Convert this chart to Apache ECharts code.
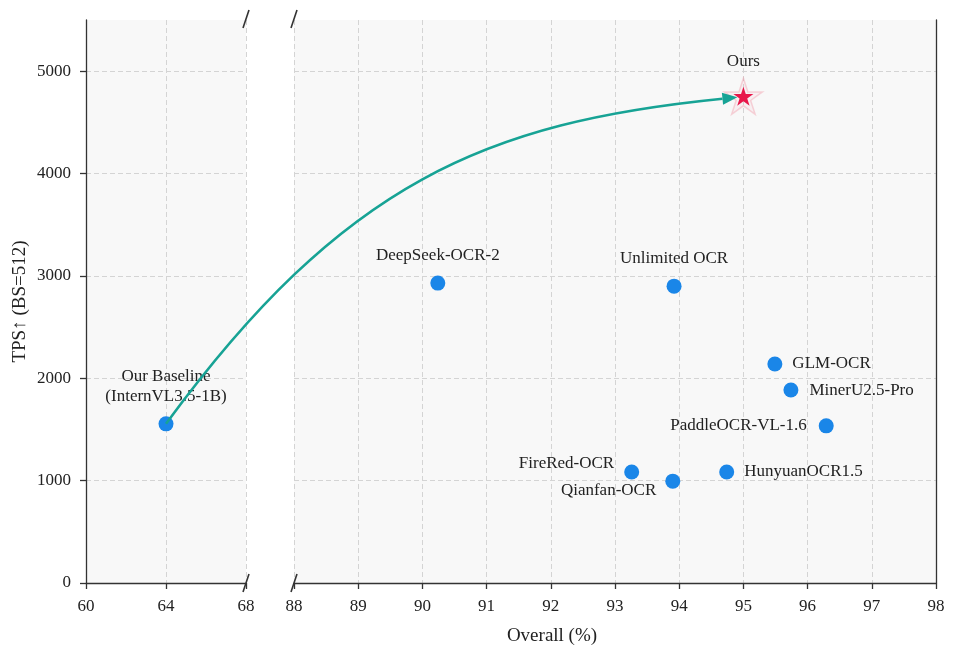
<!DOCTYPE html>
<html>
<head>
<meta charset="utf-8">
<script src="https://cdn.jsdelivr.net/npm/echarts@6/dist/echarts.min.js"></script>
<style>
  html, body { margin: 0; padding: 0; background: #fff; }
  #main { width: 960px; height: 656px; }
</style>
</head>
<body>
<div id="main"></div>
<script>
// data
const models = ['DeepSeek-OCR-2', 'Unlimited OCR', 'GLM-OCR', 'MinerU2.5-Pro',
                'PaddleOCR-VL-1.6', 'FireRed-OCR', 'Qianfan-OCR', 'HunyuanOCR1.5'];
const overall = [90.24, 93.92, 95.49, 95.74, 96.29, 93.26, 93.90, 94.74];
const tps = [2930, 2900, 2140, 1885, 1535, 1085, 995, 1085];

const baselineName = 'Our Baseline\n(InternVL3.5-1B)';
const baselineOverall = 64.0;
const baselineTps = 1555;

const oursName = 'Ours';
const oursOverall = 95.0;
const oursTps = 4755;

const leftTicks = [60, 68, 4];   // min, max, step
const rightTicks = [88, 98, 1];
const yTicks = [0, 5500, 1000];

// label placement per model (style only)
const labelPlace = {
    'DeepSeek-OCR-2': ['top', 12, [0, 0]],
    'Unlimited OCR': ['top', 12, [0, 0]],
    'GLM-OCR': ['right', 10, [0, 0]],
    'MinerU2.5-Pro': ['right', 11, [0, 0]],
    'PaddleOCR-VL-1.6': ['left', 12, [0, 0]],
    'FireRed-OCR': ['left', 10, [0, -8]],
    'Qianfan-OCR': ['left', 9, [0, 9]],
    'HunyuanOCR1.5': ['right', 10, [0, 0]]
};

const FONT = "'Liberation Serif', 'Times New Roman', serif";
const TXT = '#222';
const BLUE = '#1a86e8';
const TEAL = '#17a395';
const STAR = 'path://M50,0 L61.2,34.5 L97.6,34.5 L68.2,55.9 L79.4,90.5 L50,69.1 L20.6,90.5 L31.8,55.9 L2.4,34.5 L38.8,34.5 Z';

const chart = echarts.init(document.getElementById('main'));

function xAxisOf(grid, t) {
    return {
        type: 'value', gridIndex: grid, min: t[0], max: t[1], interval: t[2],
        axisLine: { show: true, onZero: false, lineStyle: { color: '#333', width: 1.3 } },
        axisTick: { show: true, length: 6, lineStyle: { color: '#333', width: 1.3 } },
        axisLabel: { color: TXT, fontFamily: FONT, fontSize: 17, margin: 15 },
        splitLine: { show: true, lineStyle: { color: '#d4d4d4', type: [5, 3], width: 1 } }
    };
}

function yAxisOf(grid, isLeft) {
    return {
        type: 'value', gridIndex: grid, min: yTicks[0], max: yTicks[1], interval: yTicks[2],
        position: isLeft ? 'left' : 'right',
        name: isLeft ? 'TPS↑ (BS=512)' : '',
        nameLocation: 'middle', nameGap: 56,
        nameTextStyle: { color: TXT, fontFamily: FONT, fontSize: 19 },
        axisLine: { show: true, lineStyle: { color: '#333', width: 1.3 } },
        axisTick: { show: isLeft, length: 6, lineStyle: { color: '#333', width: 1.3 } },
        axisLabel: { show: isLeft, color: TXT, fontFamily: FONT, fontSize: 17, margin: 15,
                     showMaxLabel: false, formatter: function (v) { return String(v); } },
        splitLine: { show: true, showMaxLine: false,
                     lineStyle: { color: '#d4d4d4', type: [5, 3], width: 1 } }
    };
}

const pointData = models.map(function (m, i) {
    const p = labelPlace[m];
    return {
        name: m, value: [overall[i], tps[i]],
        label: { position: p[0], distance: p[1], offset: p[2] }
    };
});

const option = {
    backgroundColor: '#fff',
    animation: false,
    grid: [
        { left: 86, right: 714, top: 20, bottom: 73, show: true, backgroundColor: '#f8f8f8', borderWidth: 0 },
        { left: 294, right: 24, top: 20, bottom: 73, show: true, backgroundColor: '#f8f8f8', borderWidth: 0 }
    ],
    xAxis: [xAxisOf(0, leftTicks), xAxisOf(1, rightTicks)],
    yAxis: [yAxisOf(0, true), yAxisOf(1, false)],
    series: [
        {
            type: 'scatter', xAxisIndex: 0, yAxisIndex: 0, symbolSize: 15,
            itemStyle: { color: BLUE, opacity: 1 },
            label: { show: true, formatter: '{b}', position: 'top', distance: 10, color: TXT,
                     fontFamily: FONT, fontSize: 17, lineHeight: 20, align: 'center' },
            data: [{ name: baselineName, value: [baselineOverall, baselineTps] }],
            z: 3
        },
        {
            type: 'scatter', xAxisIndex: 1, yAxisIndex: 1, symbolSize: 15,
            itemStyle: { color: BLUE, opacity: 1 },
            label: { show: true, formatter: '{b}', color: TXT, fontFamily: FONT, fontSize: 17 },
            data: pointData,
            z: 3
        },
        {
            type: 'scatter', xAxisIndex: 1, yAxisIndex: 1, symbol: STAR, symbolSize: 38,
            symbolKeepAspect: true, silent: true,
            itemStyle: { color: 'rgba(244,150,165,0.10)', borderColor: 'rgba(240,140,158,0.45)', borderWidth: 1.5 },
            data: [{ name: oursName, value: [oursOverall, oursTps] }],
            z: 3
        },
        {
            type: 'scatter', xAxisIndex: 1, yAxisIndex: 1, symbol: STAR, symbolSize: 20,
            symbolKeepAspect: true,
            itemStyle: { color: '#e8174a', opacity: 1 },
            label: { show: true, formatter: '{b}', position: 'top', distance: 17, color: TXT,
                     fontFamily: FONT, fontSize: 17 },
            data: [{ name: oursName, value: [oursOverall, oursTps] }],
            z: 4
        }
    ]
};

chart.setOption(option);

// arrow from baseline to ours: steep start, flat finish
const p0 = chart.convertToPixel({ xAxisIndex: 0, yAxisIndex: 0 }, [baselineOverall, baselineTps]);
const star = chart.convertToPixel({ xAxisIndex: 1, yAxisIndex: 1 }, [oursOverall, oursTps]);
const tip = [star[0] - 6, star[1] + 1];
const W = tip[0] - p0[0], H = p0[1] - tip[1];
const c1 = [p0[0] + 0.31 * W, p0[1] - 0.74 * H];
const c2 = [tip[0] - 0.44 * W, tip[1] + 0.077 * H];
let dx = tip[0] - c2[0], dy = tip[1] - c2[1];
const len = Math.sqrt(dx * dx + dy * dy);
dx /= len; dy /= len;
const headLen = 15, headW = 6;
const base = [tip[0] - dx * headLen, tip[1] - dy * headLen];

// break marks on the x axis gap
const bx0 = chart.convertToPixel({ xAxisIndex: 0, yAxisIndex: 0 }, [leftTicks[1], yTicks[0]]);
const bx1 = chart.convertToPixel({ xAxisIndex: 1, yAxisIndex: 1 }, [rightTicks[0], yTicks[0]]);
const yTop = chart.convertToPixel({ xAxisIndex: 0, yAxisIndex: 0 }, [leftTicks[1], yTicks[1]])[1];
function brk(x, y) {
    return {
        type: 'line', shape: { x1: x - 3, y1: y + 9, x2: x + 3, y2: y - 9 },
        style: { stroke: '#333', lineWidth: 1.6 }, z: 10
    };
}

chart.setOption({
    graphic: [
        {
            type: 'bezierCurve',
            shape: { x1: p0[0], y1: p0[1], x2: base[0], y2: base[1],
                     cpx1: c1[0], cpy1: c1[1], cpx2: c2[0], cpy2: c2[1] },
            style: { stroke: TEAL, lineWidth: 2.6, fill: null },
            z: 5
        },
        {
            type: 'polygon',
            shape: {
                points: [
                    tip,
                    [base[0] - dy * headW, base[1] + dx * headW],
                    [base[0] + dy * headW, base[1] - dx * headW]
                ]
            },
            style: { fill: TEAL },
            z: 6
        },
        brk(bx0[0], bx0[1]), brk(bx1[0], bx1[1]),
        brk(bx0[0], yTop - 1), brk(bx1[0], yTop - 1),
        {
            type: 'text', x: 552, y: 636,
            style: { text: 'Overall (%)', fill: TXT, font: '19px ' + FONT, align: 'center', verticalAlign: 'middle' }
        }
    ]
});
</script>
</body>
</html>
